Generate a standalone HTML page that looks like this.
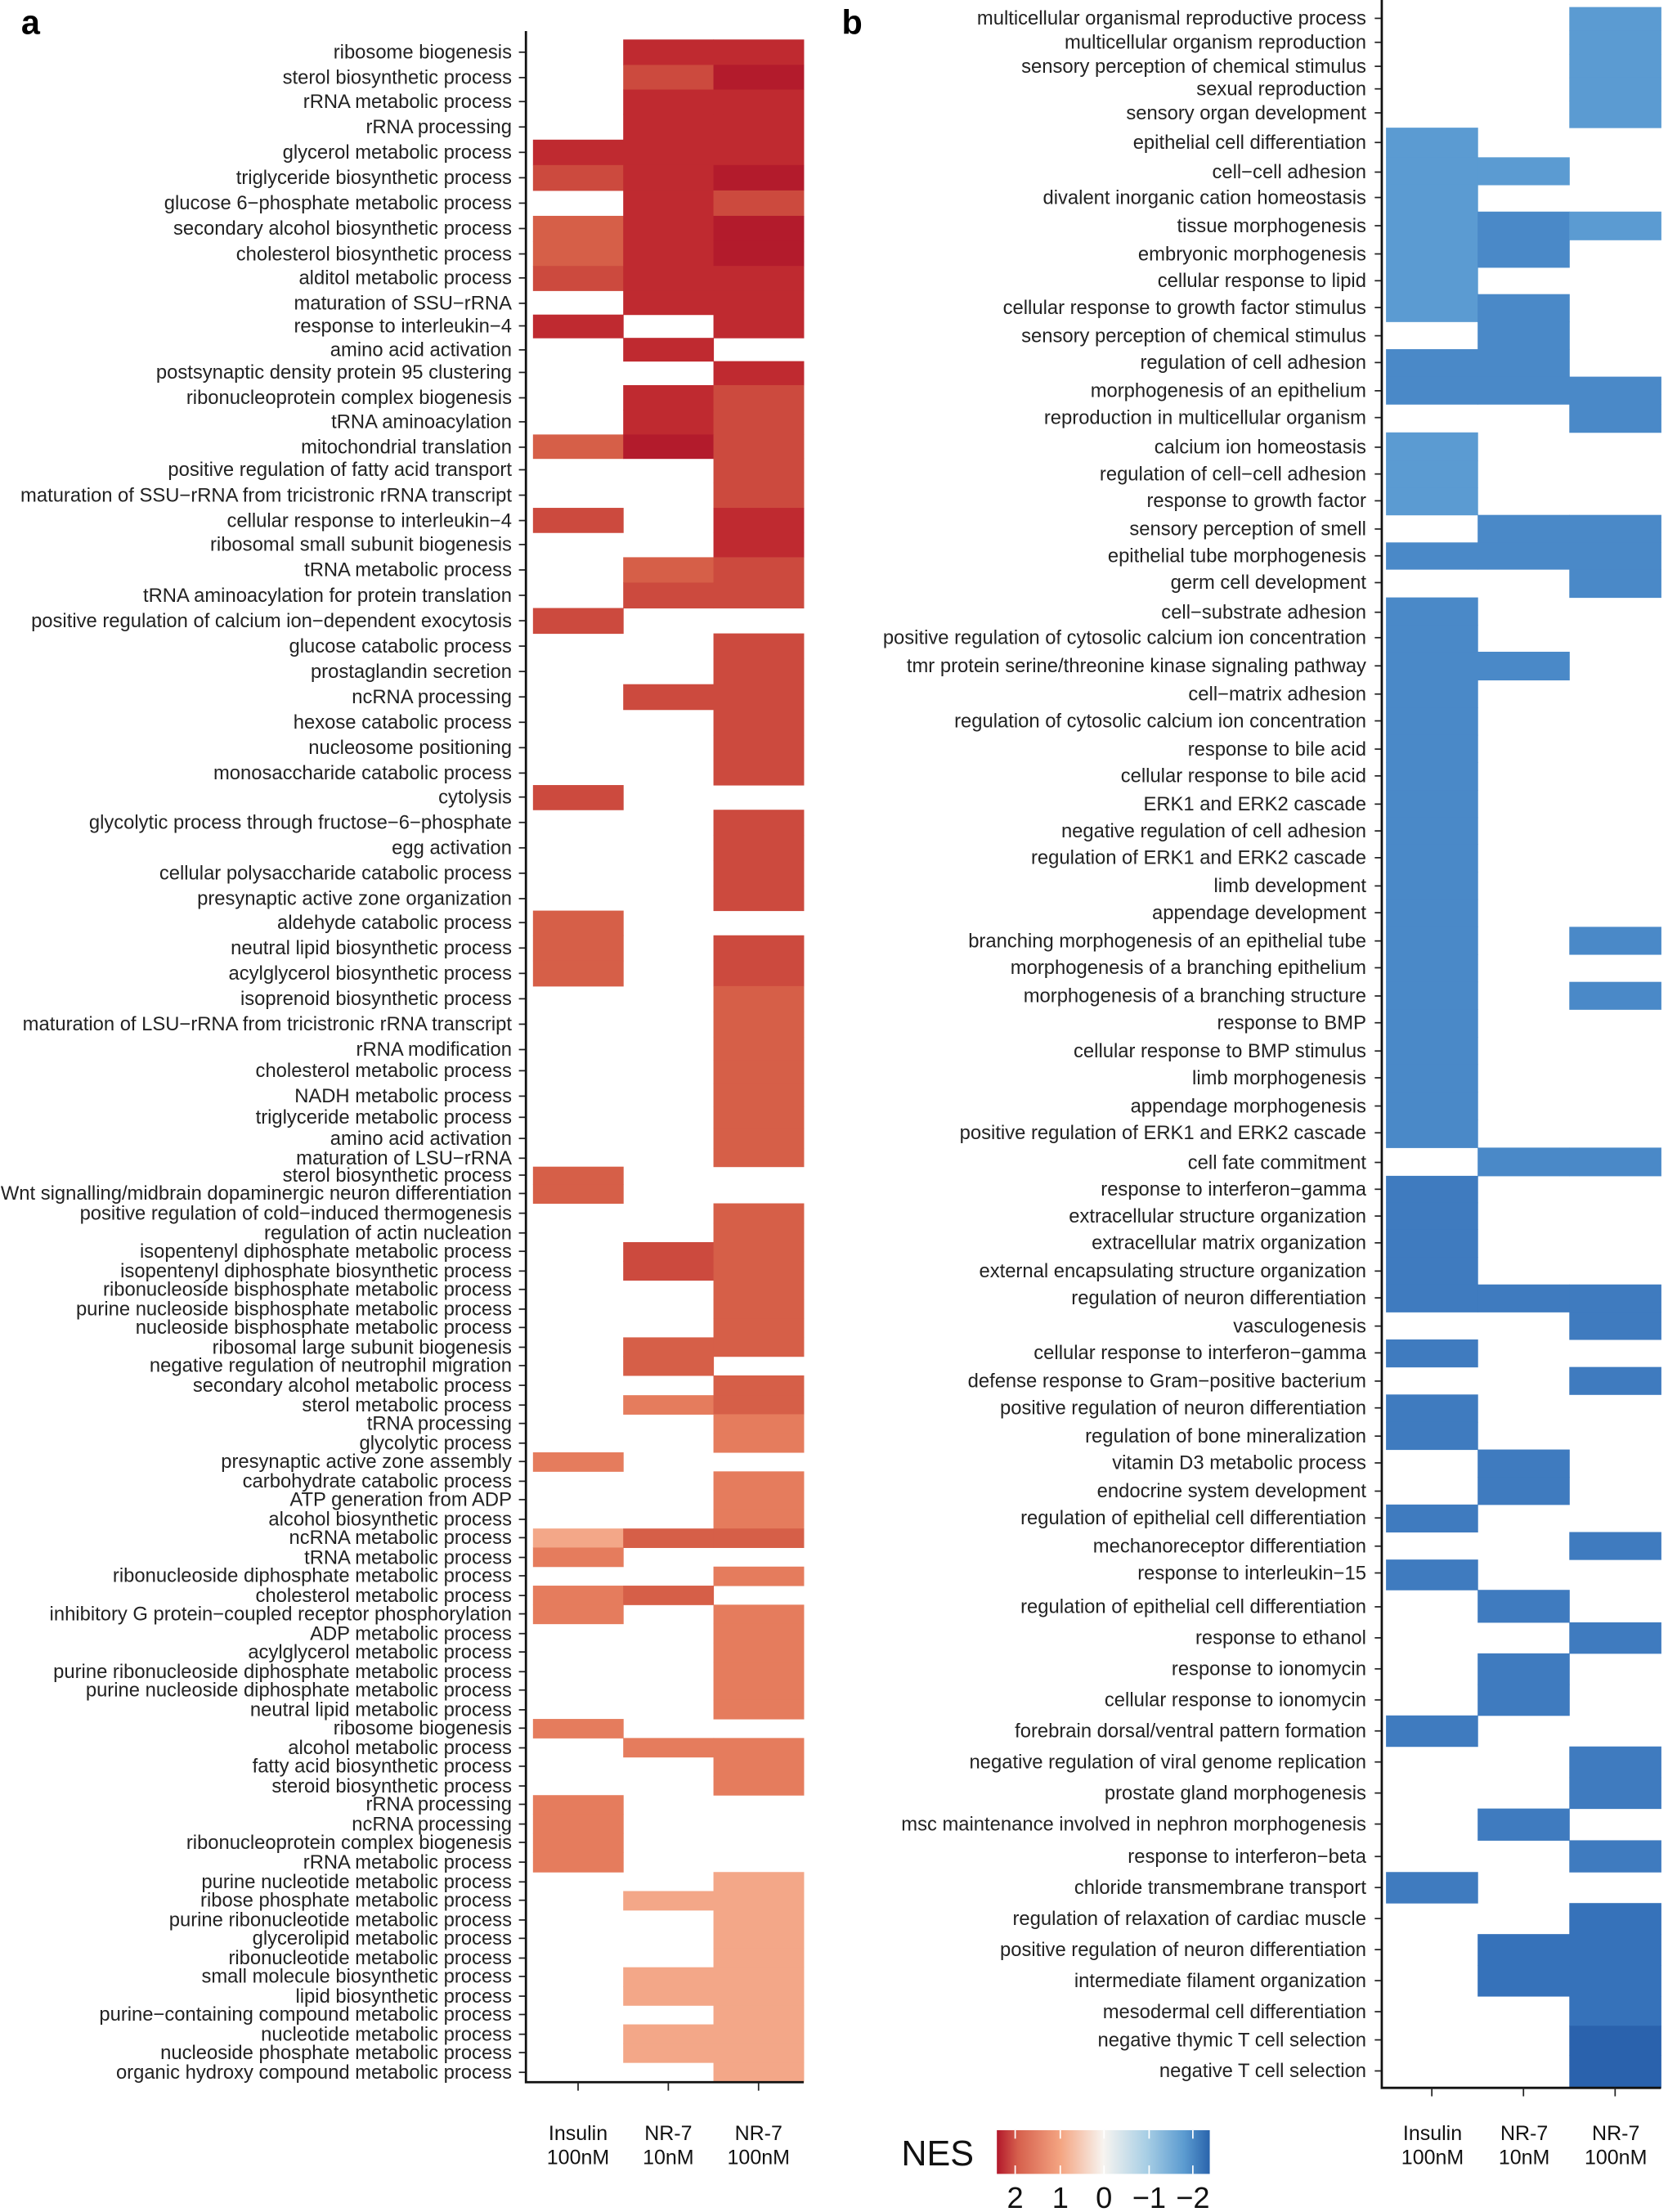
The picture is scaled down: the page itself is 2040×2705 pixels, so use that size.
<!DOCTYPE html>
<html><head><meta charset="utf-8">
<style>
html,body{margin:0;padding:0;background:#fff;}
svg{display:block;}
text{font-family:"Liberation Sans",Arial,sans-serif;}
</style></head>
<body>
<svg id="s" xmlns="http://www.w3.org/2000/svg" width="2040" height="2705" viewBox="0 0 1183 1568" preserveAspectRatio="none">
<defs>
<linearGradient id="g" x1="0" x2="1" y1="0" y2="0">
<stop offset="0" stop-color="#b2182b"/>
<stop offset="0.1" stop-color="#d6604d"/>
<stop offset="0.3" stop-color="#f4a582"/>
<stop offset="0.5" stop-color="#f7f4f0"/>
<stop offset="0.7" stop-color="#a9cfe5"/>
<stop offset="0.88" stop-color="#5b9bd0"/>
<stop offset="1" stop-color="#2a64ac"/>
</linearGradient>
</defs>
<g id="cells"></g>
<g id="labels" fill="#222" font-size="13.8" text-anchor="end"></g>
<text x="15" y="24" font-size="24" font-weight="bold" fill="#000">a</text>
<text x="597" y="24" font-size="24" font-weight="bold" fill="#000">b</text>
<g fill="#111" font-size="14.5" text-anchor="middle">
<text x="410" y="1517">Insulin</text><text x="410" y="1534">100nM</text>
<text x="474" y="1517">NR-7</text><text x="474" y="1534">10nM</text>
<text x="538" y="1517">NR-7</text><text x="538" y="1534">100nM</text>
<text x="1016" y="1517">Insulin</text><text x="1016" y="1534">100nM</text>
<text x="1081" y="1517">NR-7</text><text x="1081" y="1534">10nM</text>
<text x="1146" y="1517">NR-7</text><text x="1146" y="1534">100nM</text>
</g>
<text x="665" y="1535" font-size="25" text-anchor="middle" fill="#111">NES</text>
<rect x="707" y="1510" width="151" height="31" fill="url(#g)"/>
<g stroke="#fff" stroke-width="1">
<line x1="720" y1="1510" x2="720" y2="1516"/><line x1="720" y1="1535" x2="720" y2="1541"/>
<line x1="752" y1="1510" x2="752" y2="1516"/><line x1="752" y1="1535" x2="752" y2="1541"/>
<line x1="783" y1="1510" x2="783" y2="1516"/><line x1="783" y1="1535" x2="783" y2="1541"/>
<line x1="815" y1="1510" x2="815" y2="1516"/><line x1="815" y1="1535" x2="815" y2="1541"/>
<line x1="846" y1="1510" x2="846" y2="1516"/><line x1="846" y1="1535" x2="846" y2="1541"/>
</g>
<g font-size="21" fill="#111" text-anchor="middle">
<text x="720" y="1565">2</text><text x="752" y="1565">1</text><text x="783" y="1565">0</text><text x="815" y="1565">−1</text><text x="846" y="1565">−2</text>
</g>
</svg>
<script>
var C={DD:"#b31b2c",D:"#bf2a30",M:"#cc4a3e",N:"#d65f48",L:"#e57c5d",VL:"#f3a788",
B1:"#5b9bd2",B2:"#4a89c8",B3:"#3f7bbf",B4:"#3672ba",B5:"#2a62ad"};
var A=[
["ribosome biogenesis",37,"","D","D"],["sterol biosynthetic process",55,"","M","DD"],["rRNA metabolic process",72,"","D","D"],["rRNA processing",90,"","D","D"],["glycerol metabolic process",108,"D","D","D"],["triglyceride biosynthetic process",126,"M","D","DD"],["glucose 6−phosphate metabolic process",144,"","D","M"],["secondary alcohol biosynthetic process",162,"N","D","DD"],["cholesterol biosynthetic process",180,"N","D","DD"],["alditol metabolic process",197,"M","D","D"],["maturation of SSU−rRNA",215,"","D","D"],["response to interleukin−4",231,"D","","D"],["amino acid activation",248,"","D",""],["postsynaptic density protein 95 clustering",264,"","","D"],["ribonucleoprotein complex biogenesis",282,"","D","M"],["tRNA aminoacylation",299,"","D","M"],["mitochondrial translation",317,"N","DD","M"],["positive regulation of fatty acid transport",333,"","","M"],["maturation of SSU−rRNA from tricistronic rRNA transcript",351,"","","M"],["cellular response to interleukin−4",369,"M","","D"],["ribosomal small subunit biogenesis",386,"","","D"],["tRNA metabolic process",404,"","N","M"],["tRNA aminoacylation for protein translation",422,"","M","M"],["positive regulation of calcium ion−dependent exocytosis",440,"M","",""],["glucose catabolic process",458,"","","M"],["prostaglandin secretion",476,"","","M"],["ncRNA processing",494,"","M","M"],["hexose catabolic process",512,"","","M"],["nucleosome positioning",530,"","","M"],["monosaccharide catabolic process",548,"","","M"],["cytolysis",565,"M","",""],["glycolytic process through fructose−6−phosphate",583,"","","M"],["egg activation",601,"","","M"],["cellular polysaccharide catabolic process",619,"","","M"],["presynaptic active zone organization",637,"","","M"],["aldehyde catabolic process",654,"N","",""],["neutral lipid biosynthetic process",672,"N","","M"],["acylglycerol biosynthetic process",690,"N","","M"],["isoprenoid biosynthetic process",708,"","","N"],["maturation of LSU−rRNA from tricistronic rRNA transcript",726,"","","N"],["rRNA modification",744,"","","N"],["cholesterol metabolic process",759,"","","N"],["NADH metabolic process",777,"","","N"],["triglyceride metabolic process",792,"","","N"],["amino acid activation",807,"","","N"],["maturation of LSU−rRNA",821,"","","N"],["sterol biosynthetic process",833,"N","",""],["Wnt signalling/midbrain dopaminergic neuron differentiation",846,"N","",""],["positive regulation of cold−induced thermogenesis",860,"","","N"],["regulation of actin nucleation",874,"","","N"],["isopentenyl diphosphate metabolic process",887,"","M","N"],["isopentenyl diphosphate biosynthetic process",901,"","M","N"],["ribonucleoside bisphosphate metabolic process",914,"","","N"],["purine nucleoside bisphosphate metabolic process",928,"","","N"],["nucleoside bisphosphate metabolic process",941,"","","N"],["ribosomal large subunit biogenesis",955,"","N","N"],["negative regulation of neutrophil migration",968,"","N",""],["secondary alcohol metabolic process",982,"","","N"],["sterol metabolic process",996,"","L","N"],["tRNA processing",1009,"","","L"],["glycolytic process",1023,"","","L"],["presynaptic active zone assembly",1036,"L","",""],["carbohydrate catabolic process",1050,"","","L"],["ATP generation from ADP",1063,"","","L"],["alcohol biosynthetic process",1077,"","","L"],["ncRNA metabolic process",1090,"VL","N","N"],["tRNA metabolic process",1104,"L","",""],["ribonucleoside diphosphate metabolic process",1117,"","","L"],["cholesterol metabolic process",1131,"L","N",""],["inhibitory G protein−coupled receptor phosphorylation",1144,"L","","L"],["ADP metabolic process",1158,"","","L"],["acylglycerol metabolic process",1171,"","","L"],["purine ribonucleoside diphosphate metabolic process",1185,"","","L"],["purine nucleoside diphosphate metabolic process",1198,"","","L"],["neutral lipid metabolic process",1212,"","","L"],["ribosome biogenesis",1225,"L","",""],["alcohol metabolic process",1239,"","L","L"],["fatty acid biosynthetic process",1252,"","","L"],["steroid biosynthetic process",1266,"","","L"],["rRNA processing",1279,"L","",""],["ncRNA processing",1293,"L","",""],["ribonucleoprotein complex biogenesis",1306,"L","",""],["rRNA metabolic process",1320,"L","",""],["purine nucleotide metabolic process",1334,"","","VL"],["ribose phosphate metabolic process",1347,"","VL","VL"],["purine ribonucleotide metabolic process",1361,"","","VL"],["glycerolipid metabolic process",1374,"","","VL"],["ribonucleotide metabolic process",1388,"","","VL"],["small molecule biosynthetic process",1401,"","VL","VL"],["lipid biosynthetic process",1415,"","VL","VL"],["purine−containing compound metabolic process",1428,"","","VL"],["nucleotide metabolic process",1442,"","VL","VL"],["nucleoside phosphate metabolic process",1455,"","VL","VL"],["organic hydroxy compound metabolic process",1469,"","","VL"]];
var B=[
["multicellular organismal reproductive process",13,"","","B1"],["multicellular organism reproduction",30,"","","B1"],["sensory perception of chemical stimulus",47,"","","B1"],["sexual reproduction",63,"","","B1"],["sensory organ development",80,"","","B1"],["epithelial cell differentiation",101,"B1","",""],["cell−cell adhesion",122,"B1","B1",""],["divalent inorganic cation homeostasis",140,"B1","",""],["tissue morphogenesis",160,"B1","B2","B1"],["embryonic morphogenesis",180,"B1","B2",""],["cellular response to lipid",199,"B1","",""],["cellular response to growth factor stimulus",218,"B1","B2",""],["sensory perception of chemical stimulus",238,"","B2",""],["regulation of cell adhesion",257,"B2","B2",""],["morphogenesis of an epithelium",277,"B2","B2","B2"],["reproduction in multicellular organism",296,"","","B2"],["calcium ion homeostasis",317,"B1","",""],["regulation of cell−cell adhesion",336,"B1","",""],["response to growth factor",355,"B1","",""],["sensory perception of smell",375,"","B2","B2"],["epithelial tube morphogenesis",394,"B2","B2","B2"],["germ cell development",413,"","","B2"],["cell−substrate adhesion",434,"B2","",""],["positive regulation of cytosolic calcium ion concentration",452,"B2","",""],["tmr protein serine/threonine kinase signaling pathway",472,"B2","B2",""],["cell−matrix adhesion",492,"B2","",""],["regulation of cytosolic calcium ion concentration",511,"B2","",""],["response to bile acid",531,"B2","",""],["cellular response to bile acid",550,"B2","",""],["ERK1 and ERK2 cascade",570,"B2","",""],["negative regulation of cell adhesion",589,"B2","",""],["regulation of ERK1 and ERK2 cascade",608,"B2","",""],["limb development",628,"B2","",""],["appendage development",647,"B2","",""],["branching morphogenesis of an epithelial tube",667,"B2","","B2"],["morphogenesis of a branching epithelium",686,"B2","",""],["morphogenesis of a branching structure",706,"B2","","B2"],["response to BMP",725,"B2","",""],["cellular response to BMP stimulus",745,"B2","",""],["limb morphogenesis",764,"B2","",""],["appendage morphogenesis",784,"B2","",""],["positive regulation of ERK1 and ERK2 cascade",803,"B2","",""],["cell fate commitment",824,"","B2","B2"],["response to interferon−gamma",843,"B3","",""],["extracellular structure organization",862,"B3","",""],["extracellular matrix organization",881,"B3","",""],["external encapsulating structure organization",901,"B3","",""],["regulation of neuron differentiation",920,"B3","B3","B3"],["vasculogenesis",940,"","","B3"],["cellular response to interferon−gamma",959,"B3","",""],["defense response to Gram−positive bacterium",979,"","","B3"],["positive regulation of neuron differentiation",998,"B3","",""],["regulation of bone mineralization",1018,"B3","",""],["vitamin D3 metabolic process",1037,"","B3",""],["endocrine system development",1057,"","B3",""],["regulation of epithelial cell differentiation",1076,"B3","",""],["mechanoreceptor differentiation",1096,"","","B3"],["response to interleukin−15",1115,"B3","",""],["regulation of epithelial cell differentiation",1139,"","B3",""],["response to ethanol",1161,"","","B3"],["response to ionomycin",1183,"","B3",""],["cellular response to ionomycin",1205,"","B3",""],["forebrain dorsal/ventral pattern formation",1227,"B3","",""],["negative regulation of viral genome replication",1249,"","","B3"],["prostate gland morphogenesis",1271,"","","B3"],["msc maintenance involved in nephron morphogenesis",1293,"","B3",""],["response to interferon−beta",1316,"","","B3"],["chloride transmembrane transport",1338,"B3","",""],["regulation of relaxation of cardiac muscle",1360,"","","B4"],["positive regulation of neuron differentiation",1382,"","B4","B4"],["intermediate filament organization",1404,"","B4","B4"],["mesodermal cell differentiation",1426,"","","B4"],["negative thymic T cell selection",1446,"","","B5"],["negative T cell selection",1468,"","","B5"]];
var NS="http://www.w3.org/2000/svg";
var cells=document.getElementById("cells"),labs=document.getElementById("labels"),svg=document.getElementById("s");
function el(p,t,a,txt){var e=document.createElementNS(NS,t);for(var k in a)e.setAttribute(k,a[k]);if(txt)e.textContent=txt;p.appendChild(e);return e;}
function panel(D,axX,labX,cols,top,bot){
  for(var i=0;i<D.length;i++){
    var y=D[i][1];
    var y0=i==0?top:(D[i-1][1]+y)/2, y1=i==D.length-1?bot:(D[i+1][1]+y)/2;
    for(var c=0;c<3;c++){var v=D[i][2+c];if(v)el(cells,"rect",{x:cols[c],y:y0,width:cols[c+1]-cols[c]+0.3,height:y1-y0+0.3,fill:C[v]});}
    el(labs,"text",{x:labX,y:y+4.5},D[i][0]);
    el(svg,"line",{x1:axX-5,x2:axX,y1:y,y2:y,stroke:"#222","stroke-width":1});
  }
  el(svg,"path",{d:"M"+axX+" "+(top-6)+"V"+bot+"H"+cols[3],fill:"none",stroke:"#111","stroke-width":1.6});
  for(var c=0;c<3;c++){var cx=(cols[c]+cols[c+1])/2;el(svg,"line",{x1:cx,x2:cx,y1:bot,y2:bot+6,stroke:"#222","stroke-width":1});}
}
panel(A,373,363,[378,442,506,570],28,1476);
panel(B,980,969,[983,1048,1113,1178],5,1480);
</script>
</body></html>
